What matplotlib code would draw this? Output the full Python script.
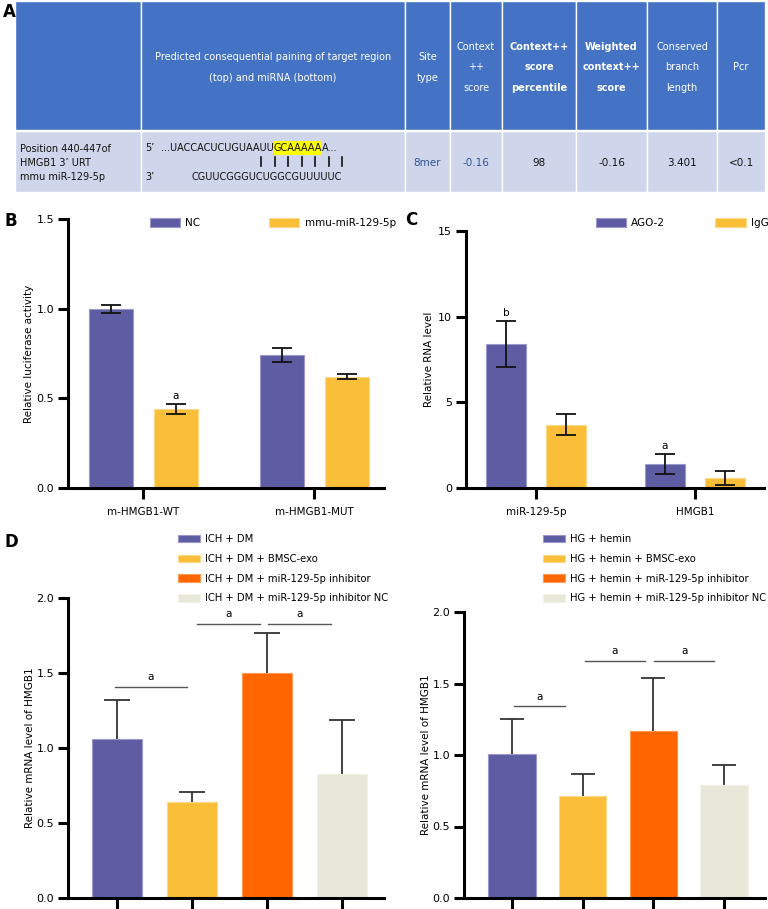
import numpy as np
import matplotlib
matplotlib.use('Agg')
import matplotlib.pyplot as plt
from matplotlib.patches import Rectangle

plt.rcParams['font.family'] = 'DejaVu Sans'

# ---------------- datos ----------------
# Tabla A
encabezados = ['', 'Predicted consequential paining of target region\n(top) and miRNA (bottom)',
               'Site\ntype', 'Context\n++\nscore', 'Context++\nscore\npercentile',
               'Weighted\ncontext++\nscore', 'Conserved\nbranch\nlength', 'Pcr']
negritas = [False, False, False, False, True, True, False, False]
fila_valores = ['', '', '8mer', '-0.16', '98', '-0.16', '3.401', '<0.1']
fila_azul = [False, False, True, True, False, False, False, False]
etiqueta_fila = 'Position 440-447of\nHMGB1 3\u2019 URT\nmmu miR-129-5p'
seq_arriba = ['...UACCACUCUGUAAUU', 'GCAAAAA', 'A...']
seq_abajo = 'CGUUCGGGUCUGGCGUUUUUC'
n_pares = 7

# Panel B
grupos_b = ['m-HMGB1-WT', 'm-HMGB1-MUT']
series_b = ['NC', 'mmu-miR-129-5p']
valores_b = [[1.00, 0.74], [0.44, 0.62]]
error_b = [[0.022, 0.04], [0.03, 0.013]]
marcas_b = [['', ''], ['a', '']]

# Panel C
grupos_c = ['miR-129-5p', 'HMGB1']
series_c = ['AGO-2', 'IgG']
valores_c = [[8.4, 1.4], [3.7, 0.6]]
error_c = [[1.35, 0.6], [0.6, 0.42]]
marcas_c = [['b', 'a'], ['', '']]

# Panel D
series_dl = ['ICH + DM', 'ICH + DM + BMSC-exo', 'ICH + DM + miR-129-5p inhibitor',
             'ICH + DM + miR-129-5p inhibitor NC']
valores_dl = [1.06, 0.64, 1.50, 0.83]
error_dl = [0.26, 0.07, 0.27, 0.36]
signif_dl = [(-0.03, 0.93, 1.41), (1.07, 1.91, 1.83), (2.01, 2.85, 1.83)]

series_dr = ['HG + hemin', 'HG + hemin + BMSC-exo', 'HG + hemin + miR-129-5p inhibitor',
             'HG + hemin + miR-129-5p inhibitor NC']
valores_dr = [1.01, 0.71, 1.17, 0.79]
error_dr = [0.24, 0.16, 0.37, 0.14]
signif_dr = [(0.03, 0.75, 1.34), (1.03, 1.88, 1.66), (2.01, 2.86, 1.66)]

morado = '#5E5CA2'
amarillo = '#FABE38'
naranja = '#FF6600'
beige = '#E8E8D8'
colores_d = [morado, amarillo, naranja, beige]
bordes_d = ['#9A98CC', '#FCD98A', '#FF9A55', '#F2F2E8']

W, H = 768, 909
fig = plt.figure(figsize=(W / 100, H / 100), dpi=100)

# eje de fondo en pixeles
fondo = fig.add_axes([0, 0, 1, 1])
fondo.set_xlim(0, W)
fondo.set_ylim(H, 0)
fondo.axis('off')


def caja(px):
    # px = izquierda, arriba, derecha, abajo en pixeles
    l, t, r, b = px
    return [l / W, 1 - b / H, (r - l) / W, (b - t) / H]


# ---------------- Tabla A ----------------
bordes_col = [15, 141, 405, 450, 502, 576, 647, 717, 765]
azul_enc = '#4472C4'
azul_fila = '#CFD5EA'
for i in range(len(bordes_col) - 1):
    x0, x1 = bordes_col[i], bordes_col[i + 1]
    fondo.add_patch(Rectangle((x0, 1), x1 - x0, 129, facecolor=azul_enc, edgecolor='white', lw=1))
    fondo.add_patch(Rectangle((x0, 131), x1 - x0, 61, facecolor=azul_fila, edgecolor='white', lw=1))
    xc = (x0 + x1) / 2
    n_lineas = encabezados[i].count('\n') + 1
    fondo.text(xc, 67.5, encabezados[i], color='white', fontsize=7, ha='center', va='center',
               linespacing=2.4 if n_lineas == 2 else 2.3,
               fontweight='bold' if negritas[i] else 'normal')
    fondo.text(xc, 163, fila_valores[i], color='#2F5597' if fila_azul[i] else '#111111',
               fontsize=7.5, ha='center', va='center')

fondo.text(20, 163, etiqueta_fila, fontsize=7, ha='left', va='center', linespacing=1.45, color='#111111')
fondo.text(145, 148, '5\u2019', fontsize=7, ha='left', va='center', color='#111111')
fondo.text(145, 177, '3\u2019', fontsize=7, ha='left', va='center', color='#111111')
fondo.text(192, 177, seq_abajo, fontsize=7, ha='left', va='center', color='#111111')

# lineas de apareamiento
for xp in np.linspace(261, 342, n_pares):
    fondo.plot([xp, xp], [157, 166], color='#111111', lw=1.2)

fig.canvas.draw()
rend = fig.canvas.get_renderer()
x = 161
inv = fondo.transData.inverted()
for k, trozo in enumerate(seq_arriba):
    t = fondo.text(x, 148, trozo, fontsize=7, ha='left', va='center', color='#111111', zorder=3)
    ext = t.get_window_extent(renderer=rend)
    x0 = inv.transform((ext.x0, ext.y0))[0]
    x1 = inv.transform((ext.x1, ext.y1))[0]
    if k == 1:
        fondo.add_patch(Rectangle((x0, 141), x1 - x0, 14, facecolor='#FFFF00', edgecolor='none', zorder=1))
    x = x1

# letras de panel
fondo.text(3, 12, 'A', fontsize=12, fontweight='bold', va='center')
fondo.text(5, 221, 'B', fontsize=12, fontweight='bold', va='center')
fondo.text(405, 220, 'C', fontsize=12, fontweight='bold', va='center')
fondo.text(5, 542, 'D', fontsize=12, fontweight='bold', va='center')


def estilo(ax):
    for s in ['top', 'right']:
        ax.spines[s].set_visible(False)
    for s in ['left', 'bottom']:
        ax.spines[s].set_linewidth(2.2)
    ax.tick_params(axis='both', width=2.2, length=7, labelsize=8, pad=3, direction='out')
    ax.set_facecolor('none')


def barras_pares(ax, grupos, series, valores, errores, marcas, colores, bordes, ancho, sep, etiqueta_y):
    pos = np.arange(len(grupos))
    for j in range(len(series)):
        xs = pos + (j - 0.5) * 2 * sep
        ax.bar(xs, valores[j], width=ancho, color=colores[j], edgecolor=bordes[j], lw=0.8,
               label=series[j], zorder=2)
        ax.errorbar(xs, valores[j], yerr=errores[j], fmt='none', ecolor='#111111', elinewidth=1.3,
                    capsize=7, capthick=1.3, zorder=3)
        for xi, v, e, m in zip(xs, valores[j], errores[j], marcas[j]):
            if m:
                ax.annotate(m, (xi, v + e), xytext=(0, 2), textcoords='offset points',
                            ha='center', va='bottom', fontsize=7.5)
    ax.set_xticks(pos)
    ax.set_xticklabels(grupos, fontsize=7.5)
    ax.tick_params(axis='x', length=8, pad=6)
    ax.set_ylabel(etiqueta_y, fontsize=7.5)


# ---------------- Panel B ----------------
axb = fig.add_axes(caja([68, 219, 384, 488]))
estilo(axb)
barras_pares(axb, grupos_b, series_b, valores_b, error_b, marcas_b, [morado, amarillo],
             ['#9A98CC', '#FCD98A'], 0.257, 0.19, 'Relative luciferase activity')
axb.set_ylim(0, 1.5)
axb.set_yticks([0, 0.5, 1.0, 1.5])
axb.set_yticklabels(['0.0', '0.5', '1.0', '1.5'])
axb.set_xlim(-0.439, 1.409)
axb.yaxis.labelpad = 2
axb.legend(loc='upper left', bbox_to_anchor=(150 / W, 1 - 218 / H), bbox_transform=fig.transFigure,
           ncol=2, frameon=False, fontsize=7.5, handlelength=2.9, handleheight=0.85,
           handletextpad=0.5, columnspacing=6.6, borderpad=0, borderaxespad=0)

# ---------------- Panel C ----------------
axc = fig.add_axes(caja([466, 231, 764, 488]))
estilo(axc)
barras_pares(axc, grupos_c, series_c, valores_c, error_c, marcas_c, [morado, amarillo],
             ['#9A98CC', '#FCD98A'], 0.252, 0.189, 'Relative RNA level')
axc.set_ylim(0, 15)
axc.set_yticks([0, 5, 10, 15])
axc.set_xlim(-0.44, 1.434)
axc.yaxis.labelpad = 3
axc.legend(loc='upper left', bbox_to_anchor=(596 / W, 1 - 218 / H), bbox_transform=fig.transFigure,
           ncol=2, frameon=False, fontsize=7.5, handlelength=2.9, handleheight=0.85,
           handletextpad=0.5, columnspacing=4.8, borderpad=0, borderaxespad=0)


# ---------------- Panel D ----------------
def panel_d(px, series, valores, errores, signif, xlim, leyenda_x):
    ax = fig.add_axes(caja(px))
    estilo(ax)
    pos = np.arange(len(series))
    tope = np.array(valores) + np.array(errores)
    for i in range(len(series)):
        ax.bar(pos[i], valores[i], width=0.667, color=colores_d[i], edgecolor=bordes_d[i], lw=0.8,
               label=series[i], zorder=2)
    # solo la mitad superior del error
    ax.vlines(pos, valores, tope, color='#333333', lw=1.3, zorder=1)
    ax.hlines(tope, pos - 0.17, pos + 0.17, color='#333333', lw=1.3, zorder=1)
    for x0, x1, y in signif:
        ax.plot([x0, x1], [y, y], color='#555555', lw=1)
        ax.text((x0 + x1) / 2, y + 0.03, 'a', ha='center', va='bottom', fontsize=7.5)
    ax.set_ylim(0, 2.0)
    ax.set_yticks([0, 0.5, 1.0, 1.5, 2.0])
    ax.set_yticklabels(['0.0', '0.5', '1.0', '1.5', '2.0'])
    ax.set_xticks(pos)
    ax.set_xticklabels([])
    ax.tick_params(axis='x', length=10)
    ax.set_xlim(*xlim)
    ax.set_ylabel('Relative mRNA level of HMGB1', fontsize=7.5)
    ax.yaxis.labelpad = 1
    ax.legend(loc='upper left', bbox_to_anchor=(leyenda_x / W, 1 - 534 / H), bbox_transform=fig.transFigure,
              ncol=1, frameon=False, fontsize=7.2, handlelength=2.2, handleheight=0.8,
              handletextpad=0.5, labelspacing=0.98, borderpad=0, borderaxespad=0)
    return ax


panel_d([68, 598, 384, 898], series_dl, valores_dl, error_dl, signif_dl, (-0.653, 3.56), 178)
panel_d([464, 612, 765, 898], series_dr, valores_dr, error_dr, signif_dr, (-0.68, 3.58), 543)

fig.savefig('out.png', dpi=100)
